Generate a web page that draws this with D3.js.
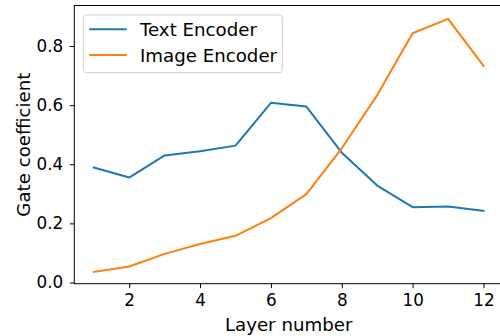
<!DOCTYPE html>
<html lang="en">
<head>
    <meta charset="UTF-8">
    <script src="https://d3js.org/d3.v7.min.js"></script>
    <title>Gate coefficient</title>
    <style>
        body { margin: 0; background: #fff; }
        text { font-family: "DejaVu Sans", sans-serif; fill: #000; }
    </style>
</head>
<body>
    <div id="chart"></div>
    <script>
    var layers = [1, 2, 3, 4, 5, 6, 7, 8, 9, 10, 11, 12];
    var textEncoder  = [0.389, 0.355, 0.430, 0.444, 0.463, 0.608, 0.595, 0.439, 0.328, 0.255, 0.257, 0.242];
    var imageEncoder = [0.036, 0.054, 0.097, 0.130, 0.158, 0.218, 0.299, 0.454, 0.634, 0.843, 0.892, 0.733];
    var xTicks = [2, 4, 6, 8, 10, 12];
    var yTicks = [0.0, 0.2, 0.4, 0.6, 0.8];
    var seriesNames = ["Text Encoder", "Image Encoder"];
    var colors = ["#1f77b4", "#ff7f0e"];

    var margin = {top: 5.5, right: -3, bottom: 52.3, left: 74.3},
        width = 500 - margin.left - margin.right,
        height = 336 - margin.top - margin.bottom;

    var svg = d3.select("#chart")
      .append("svg")
        .attr("width", 500)
        .attr("height", 336)
      .append("g")
        .attr("transform", "translate(" + margin.left + "," + margin.top + ")");

    // matplotlib style 5% margins
    var x = d3.scaleLinear()
      .domain([0.45, 12.55])
      .range([0, width]);

    var y = d3.scaleLinear()
      .domain([-0.004, 0.937])
      .range([height, 0]);

    var xAxis = svg.append("g")
      .attr("transform", "translate(0," + height + ")")
      .call(d3.axisBottom(x).tickValues(xTicks).tickSize(4.5).tickSizeOuter(0).tickPadding(6));
    xAxis.select(".domain").remove();
    xAxis.selectAll("line").attr("stroke", "#000").attr("stroke-width", 1);
    xAxis.selectAll("text").style("font-size", "16.8px").attr("font-family", null);

    var yAxis = svg.append("g")
      .call(d3.axisLeft(y).tickValues(yTicks).tickFormat(d3.format(".1f")).tickSize(4.5).tickSizeOuter(0).tickPadding(6.5));
    yAxis.select(".domain").remove();
    yAxis.selectAll("line").attr("stroke", "#000").attr("stroke-width", 1);
    yAxis.selectAll("text").style("font-size", "16.8px").attr("font-family", null);

    var series = [textEncoder, imageEncoder];
    var line = d3.line()
      .x(function(d, i) { return x(layers[i]); })
      .y(function(d) { return y(d); });

    series.forEach(function(s, k) {
      svg.append("path")
        .datum(s)
        .attr("fill", "none")
        .attr("stroke", colors[k])
        .attr("stroke-width", 2)
        .attr("stroke-linejoin", "round")
        .attr("stroke-linecap", "square")
        .attr("d", line);
    });

    // spines
    svg.append("rect")
      .attr("x", 0)
      .attr("y", 0)
      .attr("width", width)
      .attr("height", height)
      .attr("fill", "none")
      .attr("stroke", "#000")
      .attr("stroke-width", 1);

    svg.append("text")
      .text("Layer number")
      .attr("x", width / 2)
      .attr("y", 331 - margin.top)
      .attr("text-anchor", "middle")
      .style("font-size", "18.2px");

    svg.append("text")
      .text("Gate coefficient")
      .attr("transform", "translate(" + (30 - margin.left) + "," + (height / 2) + ") rotate(-90)")
      .attr("text-anchor", "middle")
      .style("font-size", "18.2px");

    // legend
    var legend = svg.append("g")
      .attr("transform", "translate(" + (83.3 - margin.left) + "," + (15 - margin.top) + ")");
    legend.append("rect")
      .attr("width", 199)
      .attr("height", 57.7)
      .attr("rx", 3)
      .attr("fill", "#fff")
      .attr("fill-opacity", 0.8)
      .attr("stroke", "#d0d0d0")
      .attr("stroke-width", 1);
    seriesNames.forEach(function(name, k) {
      var ly = 14.3 + k * 25.7;
      legend.append("line")
        .attr("x1", 6)
        .attr("x2", 43.4)
        .attr("y1", ly)
        .attr("y2", ly)
        .attr("stroke", colors[k])
        .attr("stroke-width", 2);
      legend.append("text")
        .text(name)
        .attr("x", 56.7)
        .attr("y", ly)
        .attr("dy", "0.36em")
        .style("font-size", "18.2px");
    });
    </script>
</body>
</html>
